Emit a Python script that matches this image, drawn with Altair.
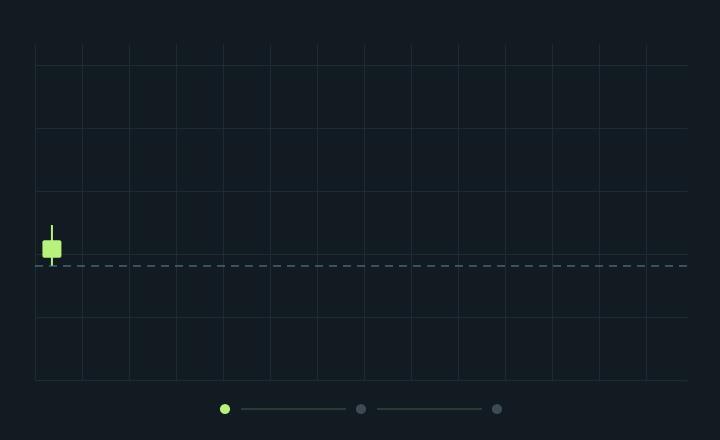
import altair as alt
import pandas as pd

# --- data ---
x_ticks = list(range(14))
y_ticks = [0, 10, 20, 30, 40, 50]
candle_x = [0.36]
candle_open = [19.4]
candle_close = [22.2]
candle_high = [24.6]
candle_low = [18.1]
ref_level = [18.1]
steps = [1, 2, 3]
step_active = [True, False, False]

BG = "#111b21"
GRID = "#1e2b33"
GREEN = "#b6f27c"

candles = pd.DataFrame({"x": candle_x, "open": candle_open, "close": candle_close,
                        "high": candle_high, "low": candle_low})
ref = pd.DataFrame({"y": ref_level})

xs = alt.Scale(domain=[0, 13.87], nice=False, zero=False, padding=0)
ys = alt.Scale(domain=[0, 53.33], nice=False, zero=False, padding=0)
xax = alt.Axis(values=x_ticks, labels=False, ticks=False, domain=False, title=None,
               grid=True, gridColor=GRID, gridWidth=1)
yax = alt.Axis(values=y_ticks, labels=False, ticks=False, domain=False, title=None,
               grid=True, gridColor=GRID, gridWidth=1)
yax_plain = alt.Axis(values=y_ticks, labels=False, ticks=False, domain=False, title=None,
                     grid=False)

base = alt.Chart(candles)
wick = base.mark_rule(color=GREEN, strokeWidth=2).encode(
    x=alt.X("x:Q", scale=xs, axis=xax),
    y=alt.Y("low:Q", scale=ys, axis=yax),
    y2="high:Q",
)
body = base.mark_bar(color=GREEN, size=19, cornerRadius=2).encode(
    x=alt.X("x:Q", scale=xs),
    y=alt.Y("open:Q", scale=ys),
    y2="close:Q",
)
dash = alt.Chart(ref).mark_rule(color="#5a8ba2", strokeWidth=1, strokeDash=[8, 6]).encode(
    y=alt.Y("y:Q", scale=ys),
)

main = alt.layer(wick, body, dash).properties(width=652, height=336)

sdf = pd.DataFrame({"step": steps, "active": step_active})
sdf["next"] = sdf["step"] + 1
sdf["row"] = 25
ss = alt.Scale(domain=[-0.397, 4.397], nice=False, zero=False, padding=0)
rs = alt.Scale(domain=[0, 50], nice=False, zero=False)
conn = alt.Chart(sdf[sdf["step"] < max(steps)]).mark_rule(
    color="#2c3a35", strokeWidth=2, xOffset=16, x2Offset=-15
).encode(
    x=alt.X("step:Q", scale=ss, axis=None),
    x2="next:Q",
    y=alt.Y("row:Q", scale=rs, axis=yax_plain),
)
dots = alt.Chart(sdf).mark_circle(size=105, opacity=1).encode(
    x=alt.X("step:Q", scale=ss, axis=None),
    y=alt.Y("row:Q", scale=rs, axis=yax_plain),
    color=alt.Color("active:N", scale=alt.Scale(domain=[True, False], range=[GREEN, "#3c4a53"]),
                    legend=None),
)
indicator = alt.layer(conn, dots).properties(width=652, height=20)

chart = alt.vconcat(main, indicator, spacing=19).properties(
    background=BG,
    padding={"left": 26, "top": 36, "right": 10, "bottom": 0},
).configure_view(stroke=None)

chart.save("out.html", embed_options={"renderer": "svg", "actions": False,
                                      "defaultStyle": "body{background:#111b21;overflow:hidden;}"})
